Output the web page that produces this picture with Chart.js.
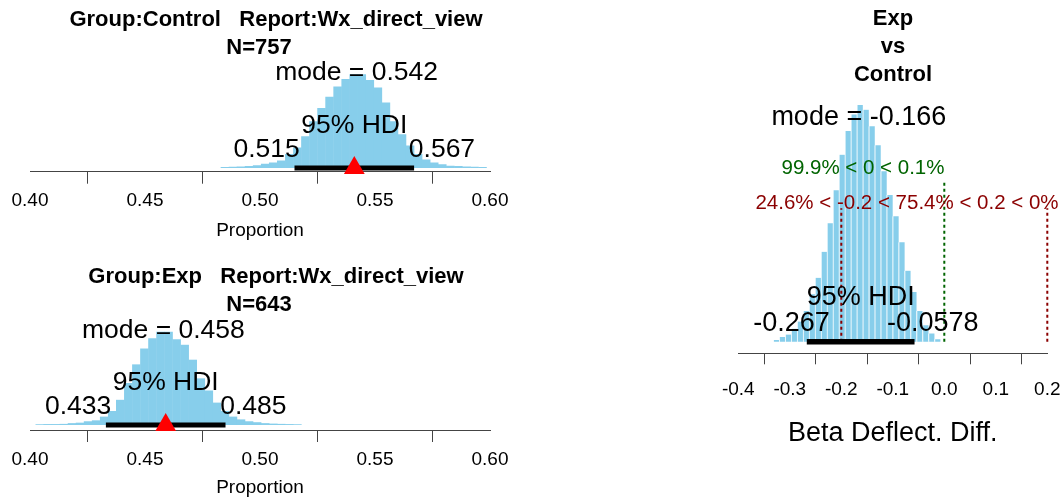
<!DOCTYPE html>
<html>
<head>
<meta charset="utf-8">
<script src="https://cdn.jsdelivr.net/npm/chart.js@4.4.1/dist/chart.umd.min.js"></script>
<style>
  html, body { margin: 0; padding: 0; background: #fff; }
  body { width: 1063px; height: 499px; overflow: hidden; position: relative; }
  canvas { position: absolute; }
  #ctlChart { left: 0; top: 0; }
  #expChart { left: 0; top: 250px; }
  #diffChart { left: 540px; top: 0; }
</style>
</head>
<body>
<canvas id="ctlChart" width="530" height="250"></canvas>
<canvas id="expChart" width="530" height="249"></canvas>
<canvas id="diffChart" width="536" height="499"></canvas>
<script>
// ---- posterior histograms (bin centres + relative heights) ----
const ctlBins = [0.48475, 0.48825, 0.49175, 0.49525, 0.49875, 0.50225, 0.50575, 0.50925, 0.51275, 0.51625,
  0.51975, 0.52325, 0.52675, 0.53025, 0.53375, 0.53725, 0.54075, 0.54425, 0.54775, 0.55125,
  0.55475, 0.55825, 0.56175, 0.56525, 0.56875, 0.57225, 0.57575, 0.57925, 0.58275, 0.58625,
  0.58975, 0.59325, 0.59675];
const ctlDensity = [0.01, 0.012, 0.015, 0.02, 0.03, 0.045, 0.06, 0.08, 0.15, 0.22,
  0.34, 0.50, 0.64, 0.76, 0.87, 0.95, 1.0, 1.0, 0.94, 0.86,
  0.70, 0.50, 0.36, 0.24, 0.15, 0.09, 0.06, 0.04, 0.025, 0.02,
  0.015, 0.012, 0.01];

const expBins = [0.40425, 0.40775, 0.41125, 0.41475, 0.41825, 0.42175, 0.42525, 0.42875, 0.43225, 0.43575,
  0.43925, 0.44275, 0.44625, 0.44975, 0.45325, 0.45675, 0.46025, 0.46375, 0.46725, 0.47075,
  0.47425, 0.47775, 0.48125, 0.48475, 0.48825, 0.49175, 0.49525, 0.49875, 0.50225, 0.50575,
  0.50925, 0.51275, 0.51625];
const expDensity = [0.008, 0.01, 0.01, 0.012, 0.02, 0.025, 0.04, 0.05, 0.09, 0.15,
  0.27, 0.45, 0.65, 0.82, 0.93, 1.0, 1.0, 0.92, 0.86, 0.70,
  0.50, 0.37, 0.24, 0.15, 0.09, 0.06, 0.04, 0.03, 0.02, 0.015,
  0.012, 0.01, 0.008];

const diffBins = [-0.3264, -0.3148, -0.3032, -0.2916, -0.2800, -0.2684, -0.2568, -0.2452, -0.2336, -0.2220,
  -0.2104, -0.1988, -0.1872, -0.1756, -0.1640, -0.1524, -0.1408, -0.1292, -0.1176, -0.1060,
  -0.0944, -0.0828, -0.0712, -0.0596, -0.0480, -0.0364, -0.0248, -0.0132];
const diffDensity = [0.007, 0.02, 0.03, 0.055, 0.085, 0.13, 0.20, 0.27, 0.38, 0.50,
  0.64, 0.79, 0.89, 0.96, 1.0, 0.98, 0.91, 0.83, 0.72, 0.62,
  0.53, 0.42, 0.30, 0.21, 0.13, 0.07, 0.035, 0.01];

// axis ticks
const propTicks = [0.40, 0.45, 0.50, 0.55, 0.60];
const diffTicks = [-0.4, -0.3, -0.2, -0.1, 0.0, 0.1, 0.2];

// summary stats printed on the panels
const ctlMode = 0.542, ctlHdi = [0.515, 0.567], ctlObs = 0.541;
const expMode = 0.458, expHdi = [0.433, 0.485], expObs = 0.459;
const diffMode = -0.166, diffHdi = [-0.267, -0.0578];
const compVal = 0, rope = [-0.2, 0.2];
const compText = '99.9% < 0 < 0.1%';
const ropeText = '24.6% < -0.2 < 75.4% < 0.2 < 0%';

const FONT = '"Liberation Sans", Arial, Helvetica, sans-serif';
const SKY = '#87CEEB';

// draws HDI bar, reference lines, annotation texts and panel titles
const postAnno = {
  id: 'postAnno',
  afterDatasetDraw(chart, args, o) {
    if (args.index !== 0) return;
    const { ctx, scales: { x, y } } = chart;
    ctx.save();
    (o.refLines || []).forEach((l) => {
      const px = x.getPixelForValue(l.at);
      ctx.strokeStyle = l.color;
      ctx.lineWidth = 2;
      ctx.setLineDash([3, 3]);
      ctx.beginPath();
      ctx.moveTo(px, y.getPixelForValue(0));
      ctx.lineTo(px, y.getPixelForValue(l.top));
      ctx.stroke();
    });
    ctx.setLineDash([]);
    ctx.strokeStyle = '#000';
    ctx.lineWidth = o.hdiWidth;
    ctx.lineCap = 'butt';
    ctx.beginPath();
    ctx.moveTo(x.getPixelForValue(o.hdi[0]), y.getPixelForValue(0));
    ctx.lineTo(x.getPixelForValue(o.hdi[1]), y.getPixelForValue(0));
    ctx.stroke();
    ctx.restore();
  },
  afterDatasetsDraw(chart, args, o) {
    const { ctx, scales: { x, y } } = chart;
    ctx.save();
    ctx.textAlign = 'left';
    ctx.textBaseline = 'middle';
    (o.texts || []).forEach((t) => {
      ctx.font = `${t.size}px ${FONT}`;
      ctx.fillStyle = t.color || '#000';
      const w = ctx.measureText(t.text).width;
      ctx.fillText(t.text, x.getPixelForValue(t.at) - t.adj * w, y.getPixelForValue(t.y));
    });
    ctx.restore();
  },
  afterDraw(chart, args, o) {
    const { ctx } = chart;
    ctx.save();
    ctx.textAlign = 'center';
    ctx.textBaseline = 'middle';
    ctx.fillStyle = '#000';
    ctx.font = `bold 22px ${FONT}`;
    (o.titles || []).forEach((t) => ctx.fillText(t.text, t.x, t.y));
    ctx.restore();
  }
};

function propChart(id, bins, dens, obs, mode, hdi, titles, yMin, yMax, pad, titlePadTop) {
  return new Chart(document.getElementById(id), {
    type: 'bar',
    data: {
      datasets: [
        {
          type: 'bar',
          data: bins.map((b, i) => ({ x: b, y: dens[i] })),
          backgroundColor: SKY,
          borderWidth: 0,
          barPercentage: 1.06,
          categoryPercentage: 1,
          order: 2
        },
        {
          type: 'scatter',
          data: [{ x: obs, y: 0 }],
          pointStyle: 'triangle',
          pointRadius: 12,
          pointBackgroundColor: '#FF0000',
          pointBorderWidth: 0,
          clip: false,
          order: 1
        }
      ]
    },
    options: {
      responsive: false,
      animation: false,
      devicePixelRatio: 1,
      layout: { padding: pad },
      plugins: {
        legend: { display: false },
        tooltip: { enabled: false },
        postAnno: {
          hdi: hdi,
          hdiWidth: 5,
          texts: [
            { text: 'mode = ' + mode.toFixed(3), at: mode, y: 1.015, adj: 0.5, size: 26.5 },
            { text: '95% HDI', at: (hdi[0] + hdi[1]) / 2, y: 0.452, adj: 0.5, size: 26.5 },
            { text: hdi[0].toFixed(3), at: hdi[0], y: 0.198, adj: 0.92, size: 26.5 },
            { text: hdi[1].toFixed(3), at: hdi[1], y: 0.198, adj: 0.08, size: 26.5 }
          ],
          titles: titles
        }
      },
      scales: {
        x: {
          type: 'linear',
          min: 0.4,
          max: 0.6,
          offset: false,
          afterBuildTicks: (s) => { s.ticks = propTicks.map((v) => ({ value: v })); },
          ticks: {
            callback: (v) => Number(v).toFixed(2),
            font: { family: FONT, size: 19 },
            color: '#000',
            padding: 6,
            maxRotation: 0,
            autoSkip: false
          },
          grid: { drawOnChartArea: false, drawTicks: true, tickLength: 12, color: '#444', lineWidth: 1 },
          border: { display: true, color: '#444', width: 1 },
          title: {
            display: true,
            text: 'Proportion',
            color: '#000',
            font: { family: FONT, size: 19, lineHeight: 1 },
            padding: { top: titlePadTop, bottom: 0 }
          }
        },
        y: { display: false, min: yMin, max: yMax }
      }
    },
    plugins: [postAnno]
  });
}

propChart('ctlChart', ctlBins, ctlDensity, ctlObs, ctlMode, ctlHdi,
  [{ text: 'Group:Control   Report:Wx_direct_view', x: 276, y: 20 }, { text: 'N=757', x: 259, y: 47.7 }],
  -0.0395, 1.05, { left: 30, right: 40, top: 69.6, bottom: 9.5 }, 3);

propChart('expChart', expBins, expDensity, expObs, expMode, expHdi,
  [{ text: 'Group:Exp   Report:Wx_direct_view', x: 276, y: 26.7 }, { text: 'N=643', x: 259, y: 55 }],
  -0.0536, 1.072, { left: 30, right: 40, top: 75, bottom: 2.2 }, 1);

new Chart(document.getElementById('diffChart'), {
  type: 'bar',
  data: {
    datasets: [{
      data: diffBins.map((b, i) => ({ x: b, y: diffDensity[i] })),
      backgroundColor: SKY,
      borderColor: '#fff',
      borderWidth: { left: 1, right: 0, top: 0, bottom: 0 },
      borderSkipped: false,
      barPercentage: 1,
      categoryPercentage: 1
    }]
  },
  options: {
    responsive: false,
    animation: false,
    devicePixelRatio: 1,
    // canvas runs past the page edge so the last tick label's padding doesn't shrink the axis
    layout: { padding: { left: 198.3, right: 28.7, top: 95, bottom: 49.5 } },
    plugins: {
      legend: { display: false },
      tooltip: { enabled: false },
      postAnno: {
        hdi: diffHdi,
        hdiWidth: 5.5,
        refLines: [
          { at: compVal, top: 0.676, color: '#006400' },
          { at: rope[0], top: 0.564, color: '#8B0000' },
          { at: rope[1], top: 0.564, color: '#8B0000' }
        ],
        texts: [
          { text: 'mode = ' + diffMode.toFixed(3), at: diffMode, y: 0.945, adj: 0.5, size: 27 },
          { text: compText, at: compVal, y: 0.733, adj: 0.999, size: 20.5, color: '#006400' },
          { text: ropeText, at: (rope[0] + rope[1]) / 2, y: 0.585, adj: 0.623, size: 20.5, color: '#8B0000' },
          { text: '95% HDI', at: (diffHdi[0] + diffHdi[1]) / 2, y: 0.185, adj: 0.5, size: 27 },
          { text: diffHdi[0].toFixed(3), at: diffHdi[0], y: 0.078, adj: 0.7, size: 27 },
          { text: diffHdi[1].toFixed(4), at: diffHdi[1], y: 0.078, adj: 0.3, size: 27 }
        ],
        titles: [
          { text: 'Exp', x: 353, y: 19 },
          { text: 'vs', x: 353, y: 47 },
          { text: 'Control', x: 353, y: 75 }
        ]
      }
    },
    scales: {
      x: {
        type: 'linear',
        min: -0.4,
        max: 0.2,
        offset: false,
        afterBuildTicks: (s) => { s.ticks = diffTicks.map((v) => ({ value: v })); },
        ticks: {
          callback: (v) => Number(v).toFixed(1),
          font: { family: FONT, size: 19 },
          color: '#000',
          padding: 13.6,
          maxRotation: 0,
          autoSkip: false
        },
        grid: { drawOnChartArea: false, drawTicks: true, tickLength: 11, color: '#444', lineWidth: 1 },
        border: { display: true, color: '#444', width: 1 },
        title: {
          display: true,
          text: 'Beta Deflect. Diff.',
          color: '#000',
          font: { family: FONT, size: 27, lineHeight: 1.2 },
          padding: { top: 2.8, bottom: 0 }
        }
      },
      y: { display: false, min: -0.049, max: 1.042 }
    }
  },
  plugins: [postAnno]
});
</script>
</body>
</html>
